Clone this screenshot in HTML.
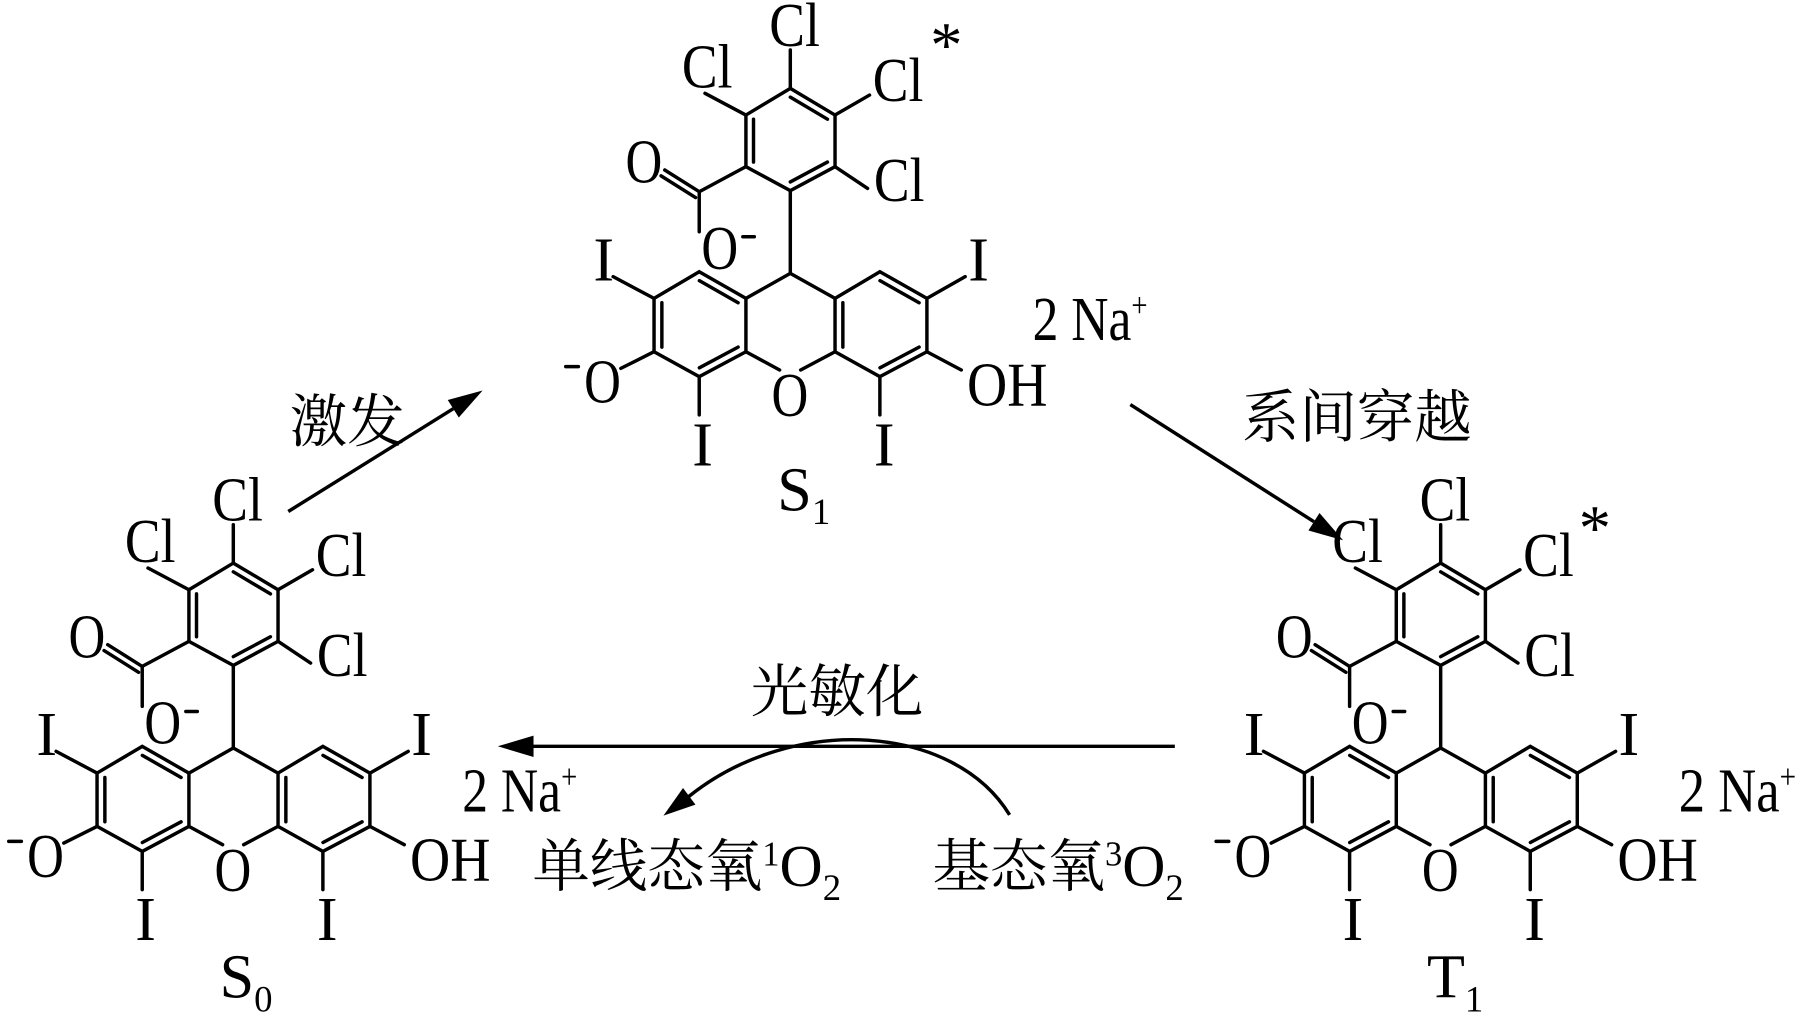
<!DOCTYPE html>
<html><head><meta charset="utf-8"><style>
html,body{margin:0;padding:0;background:#fff;}
svg{display:block;}
text{font-family:"Liberation Serif","Noto Serif CJK SC",serif;fill:#000;}
.a{font-size:54px;}
.c{font-size:50px;}
</style></head><body>
<svg width="1803" height="1031" viewBox="0 0 1568 897" preserveAspectRatio="none" xmlns="http://www.w3.org/2000/svg">
<defs>
<g id="mol">
<g stroke="#000" stroke-width="3" fill="none" stroke-linecap="round">
<polygon points="687.3,76.9 726.2,100.1 726.2,145 687.3,165.9 648.7,145 648.7,100.1"/>
<line x1="655.3" y1="103.7" x2="655.3" y2="141"/>
<line x1="687.3" y1="84.5" x2="719.6" y2="103.7"/>
<line x1="719.6" y1="141" x2="687.3" y2="158.3"/>
<line x1="687.3" y1="76.9" x2="687.3" y2="43.5"/>
<line x1="648.7" y1="100.1" x2="613.1" y2="81.2"/>
<line x1="726.2" y1="100.1" x2="756.2" y2="82.7"/>
<line x1="726.2" y1="145" x2="754.5" y2="163.9"/>
<line x1="648.7" y1="145" x2="608.1" y2="166.8"/>
<line x1="608.1" y1="166.8" x2="578.1" y2="147.9"/>
<line x1="604.9" y1="171.9" x2="574.9" y2="153"/>
<line x1="608.1" y1="166.8" x2="608.1" y2="201.6"/>
<line x1="687.3" y1="165.9" x2="687.3" y2="237.8"/>
<line x1="687.3" y1="237.8" x2="648.7" y2="259.6"/>
<line x1="687.3" y1="237.8" x2="726.2" y2="259.6"/>
<polygon points="608.1,236.4 648.7,259.6 648.7,306 608.1,327.7 568.8,306 568.8,259.6"/>
<line x1="608.2" y1="244.2" x2="641.9" y2="263.4"/>
<line x1="575.6" y1="263.4" x2="575.6" y2="302"/>
<line x1="608.2" y1="320" x2="641.9" y2="302"/>
<polygon points="765.2,236.4 806.1,259.6 806.1,306 765.2,327.7 726.2,306 726.2,259.6"/>
<line x1="765.3" y1="244.2" x2="799.3" y2="263.4"/>
<line x1="733" y1="263.4" x2="733" y2="302"/>
<line x1="799.3" y1="302" x2="765.3" y2="320"/>
<line x1="648.7" y1="306" x2="678" y2="321.9"/>
<line x1="726.2" y1="306" x2="696.3" y2="321.9"/>
<line x1="568.8" y1="259.6" x2="533.2" y2="240.7"/>
<line x1="806.1" y1="259.6" x2="839.4" y2="240.7"/>
<line x1="568.8" y1="306" x2="539.9" y2="320.5"/>
<line x1="806.1" y1="306" x2="836" y2="321.9"/>
<line x1="608.1" y1="327.7" x2="608.1" y2="361"/>
<line x1="765.2" y1="327.7" x2="765.2" y2="361"/>
<line x1="646" y1="206" x2="656" y2="206"/>
<line x1="492" y1="319" x2="503" y2="319"/>
</g>
<text class="a" x="691" y="40" text-anchor="middle" textLength="44" lengthAdjust="spacingAndGlyphs">Cl</text>
<text class="a" x="615" y="76" text-anchor="middle" textLength="44" lengthAdjust="spacingAndGlyphs">Cl</text>
<text class="a" x="759" y="88" textLength="44" lengthAdjust="spacingAndGlyphs">Cl</text>
<text class="a" x="760" y="175" textLength="44" lengthAdjust="spacingAndGlyphs">Cl</text>
<text class="a" x="560" y="159" text-anchor="middle" textLength="32" lengthAdjust="spacingAndGlyphs">O</text>
<text class="a" x="610" y="234" textLength="32" lengthAdjust="spacingAndGlyphs">O</text>
<text class="a" x="525" y="244" text-anchor="middle">I</text>
<text class="a" x="851" y="244" text-anchor="middle">I</text>
<text class="a" x="524" y="350" text-anchor="middle" textLength="32" lengthAdjust="spacingAndGlyphs">O</text>
<text class="a" x="687" y="362" text-anchor="middle" textLength="32" lengthAdjust="spacingAndGlyphs">O</text>
<text class="a" x="841" y="353" textLength="70" lengthAdjust="spacingAndGlyphs">OH</text>
<text class="a" x="611" y="405" text-anchor="middle">I</text>
<text class="a" x="769" y="405" text-anchor="middle">I</text>
</g>
</defs>

<use href="#mol"/>
<use href="#mol" transform="translate(-484.4,413)"/>
<use href="#mol" transform="translate(565.6,413)"/>

<text x="823" y="58" font-size="56" text-anchor="middle">*</text>
<text x="1387" y="478" font-size="56" text-anchor="middle">*</text>

<text class="a" x="898" y="296" textLength="100" lengthAdjust="spacingAndGlyphs">2 Na<tspan font-size="30" dy="-20">+</tspan></text>
<text class="a" x="402" y="706" textLength="100" lengthAdjust="spacingAndGlyphs">2 Na<tspan font-size="30" dy="-20">+</tspan></text>
<text class="a" x="1460" y="706" textLength="102" lengthAdjust="spacingAndGlyphs">2 Na<tspan font-size="30" dy="-20">+</tspan></text>

<text class="a" x="676" y="444">S<tspan font-size="32" dy="12">1</tspan></text>
<text class="a" x="191" y="868">S<tspan font-size="32" dy="12">0</tspan></text>
<text class="a" x="1241" y="868">T<tspan font-size="32" dy="12">1</tspan></text>

<text class="c" x="252" y="384">激发</text>
<text class="c" x="1080" y="380">系间穿越</text>
<text class="c" x="653" y="619">光敏化</text>
<text class="c" x="463" y="771">单线态氧<tspan font-size="30" dy="-18">1</tspan><tspan font-size="52" dy="18">O</tspan><tspan font-size="32" dy="12">2</tspan></text>
<text class="c" x="811" y="771">基态氧<tspan font-size="30" dy="-18">3</tspan><tspan font-size="52" dy="18">O</tspan><tspan font-size="32" dy="12">2</tspan></text>

<g stroke="#000" stroke-width="3" fill="none">
<line x1="250.7" y1="445" x2="394.2" y2="355.6"/>
<line x1="983" y1="352" x2="1142.7" y2="453.9"/>
<line x1="1021.7" y1="649.3" x2="460" y2="649.3"/>
<path d="M878,709 C830,630 690,620 599,693"/>
</g>
<g fill="#000">
<polygon points="419.7,339.7 399,363.2 389.4,348"/>
<polygon points="1168,470 1137.9,461.5 1147.5,446.3"/>
<polygon points="432.9,649.3 464,640 464,658.6"/>
<polygon points="577,709.6 604.8,700 594,685.6"/>
</g>
</svg>
</body></html>
